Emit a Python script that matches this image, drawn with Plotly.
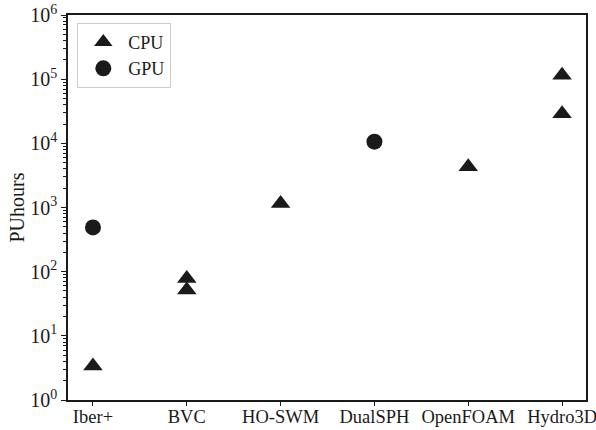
import plotly.graph_objects as go

categories = ["Iber+", "BVC", "HO-SWM", "DualSPH", "OpenFOAM", "Hydro3D"]
cpu_x = ["Iber+", "BVC", "BVC", "HO-SWM", "OpenFOAM", "Hydro3D", "Hydro3D"]
cpu_y = [3.4, 78, 52, 1150, 4300, 115000, 29000]
gpu_x = ["Iber+", "DualSPH"]
gpu_y = [490, 10600]
ytick_vals = [1, 10, 100, 1000, 10000, 100000, 1000000]
ytick_text = ["10<sup>0</sup>", "10<sup>1</sup>", "10<sup>2</sup>", "10<sup>3</sup>",
              "10<sup>4</sup>", "10<sup>5</sup>", "10<sup>6</sup>"]

ink = "#1a1a1a"
font = "Liberation Serif, Times New Roman, serif"

idx = {c: i for i, c in enumerate(categories)}

fig = go.Figure()
fig.add_trace(go.Scatter(x=[idx[c] for c in cpu_x], y=cpu_y, mode="markers", name="CPU",
                         marker=dict(symbol="triangle-up", size=17, color=ink)))
fig.add_trace(go.Scatter(x=[idx[c] for c in gpu_x], y=gpu_y, mode="markers", name="GPU",
                         marker=dict(symbol="circle", size=16, color=ink)))

minor_vals = [m * 10 ** k for k in range(6) for m in range(2, 10)]

fig.update_layout(
    width=596, height=430,
    margin=dict(l=68, r=10, t=15, b=30),
    paper_bgcolor="white", plot_bgcolor="white",
    font=dict(family=font, size=20, color=ink),
    showlegend=True,
    legend=dict(x=0.018, y=0.98, xanchor="left", yanchor="top",
                bordercolor="#cccccc", borderwidth=1, bgcolor="white",
                font=dict(size=18, family=font), itemwidth=40,
                tracegroupgap=0),
    xaxis=dict(range=[-0.266, 5.255], tickvals=list(range(len(categories))), ticktext=categories,
               showline=True, linecolor=ink, linewidth=1.5, mirror=True,
               ticks="outside", ticklen=4, tickcolor=ink, showgrid=False, zeroline=False,
               tickfont=dict(size=18.5, family=font), automargin=False,
               ticklabeloverflow="allow", tickangle=0, ticklabelstandoff=-5),
    yaxis=dict(type="log", range=[0, 6], tickvals=ytick_vals, ticktext=ytick_text,
               showline=True, linecolor=ink, linewidth=1.5, mirror=True,
               ticks="outside", ticklen=5, tickcolor=ink, showgrid=False, zeroline=False,
               tickfont=dict(size=20, family=font), automargin=False,
               minor=dict(tickvals=minor_vals, ticks="outside", ticklen=3, tickcolor=ink, showgrid=False),
               title=dict(text="PUhours", font=dict(size=20, family=font), standoff=0)),
)

fig.write_html("out.html")
